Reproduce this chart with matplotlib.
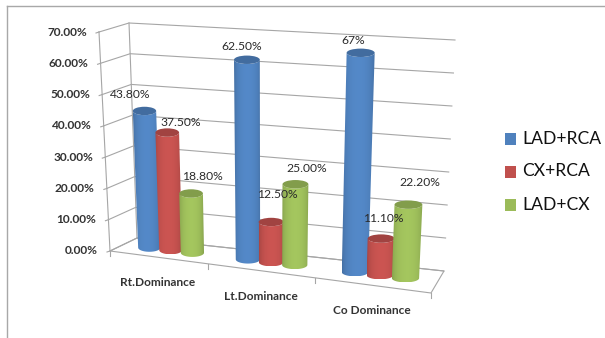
import numpy as np
import matplotlib
matplotlib.use("Agg")
import matplotlib.pyplot as plt
from matplotlib.patches import Ellipse, Polygon, PathPatch, Rectangle
from matplotlib.path import Path
from matplotlib.colors import to_rgb

plt.rcParams['font.family'] = ['Lato', 'DejaVu Sans']

categories = ['Rt.Dominance', 'Lt.Dominance', 'Co Dominance']
series_names = ['LAD+RCA', 'CX+RCA', 'LAD+CX']
lad_rca = [43.8, 62.5, 67.0]
cx_rca = [37.5, 12.5, 11.1]
lad_cx = [18.8, 25.0, 22.2]
lad_rca_labels = ['43.80%', '62.50%', '67%']
cx_rca_labels = ['37.50%', '12.50%', '11.10%']
lad_cx_labels = ['18.80%', '25.00%', '22.20%']
axis_ticks = [0, 10, 20, 30, 40, 50, 60, 70]
colors = ['#4F81BD', '#C0504D', '#9BBB59']

# corners of the 3d box on the canvas: (bottom, top) for each vertical edge
FL = np.array([[110, 251], [99, 32]], float)
BL = np.array([[137, 238], [129, 23]], float)
BR = np.array([[444, 271], [455, 40]], float)
FR = np.array([[431, 293], [443, 57]], float)
VMAX = 70.0
BAR_STEP = 0.0745
BAR_DU = 0.079


def proj(u, d, v):
    # u along the categories, d depth (0 front, 1 back), v the value
    u = u - 0.12 * u * (1 - u)
    t = v / VMAX
    left = (1 - d) * FL + d * BL
    right = (1 - d) * FR + d * BR
    edge = (1 - u) * left + u * right
    return (1 - t) * edge[0] + t * edge[1]


def cylinder(ax, u, v, color, zorder):
    base = np.array(to_rgb(color))
    lo0, lo1 = proj(u - BAR_DU / 2, 0.5, 0), proj(u + BAR_DU / 2, 0.5, 0)
    hi0, hi1 = proj(u - BAR_DU / 2, 0.5, v), proj(u + BAR_DU / 2, 0.5, v)
    top_c, bot_c = (hi0 + hi1) / 2, (lo0 + lo1) / 2
    rx_t, rx_b = (hi1[0] - hi0[0]) / 2, (lo1[0] - lo0[0]) / 2
    ry = 4.2

    # outline: down the left side, round the bottom, up the right side
    th = np.linspace(np.pi, 0, 30)
    bottom = np.c_[bot_c[0] + rx_b * np.cos(th), bot_c[1] + ry * np.sin(th)]
    th2 = np.linspace(0, np.pi, 30)
    top = np.c_[top_c[0] + rx_t * np.cos(th2), top_c[1] + ry * np.sin(th2)]
    pts = np.r_[bottom, top, bottom[:1]]
    path = Path(pts)

    # horizontal shading, a little darker at both sides of the cylinder
    s = np.linspace(-1, 1, 48)
    shade = 0.80 + 0.26 * np.sqrt(1 - 0.92 * s ** 2)
    img = np.clip(base[None, None, :] * shade[None, :, None], 0, 1)
    x0, x1 = pts[:, 0].min(), pts[:, 0].max()
    y0, y1 = pts[:, 1].min(), pts[:, 1].max()
    im = ax.imshow(img, extent=(x0, x1, y1, y0), aspect='auto', zorder=zorder,
                   interpolation='bilinear')
    im.set_clip_path(PathPatch(path, transform=ax.transData))

    ax.add_patch(Ellipse(top_c, 2 * rx_t, 2 * ry, fc=base * 0.84, ec='none',
                         zorder=zorder + 0.1))
    return top_c


fig = plt.figure(figsize=(6.05, 3.38), dpi=100)
ax = fig.add_axes([0, 0, 1, 1])

# walls and gridlines
grid = '#a6a6a6'
for v in axis_ticks:
    a, b, c = proj(0, 0, v), proj(0, 1, v), proj(1, 1, v)
    ax.plot([a[0], b[0], c[0]], [a[1], b[1], c[1]], color=grid, lw=0.8, zorder=1)
    t0 = proj(0, 0, v)
    ax.plot([t0[0] - 3, t0[0]], [t0[1] + 1, t0[1]], color=grid, lw=0.8, zorder=1)
    ax.text(t0[0] - 12, t0[1], '%.2f%%' % v, ha='right', va='center',
            fontsize=8.6, color='#333333', fontweight='bold', zorder=5)

for u, d in [(0, 0), (0, 1)]:
    a, b = proj(u, d, 0), proj(u, d, VMAX)
    ax.plot([a[0], b[0]], [a[1], b[1]], color=grid, lw=0.8, zorder=1)

# floor
floor = [proj(0, 0, 0), proj(1, 0, 0), proj(1, 1, 0), proj(0, 1, 0)]
ax.add_patch(Polygon(floor, closed=True, fc='none', ec=grid, lw=0.8, zorder=1))
for k in range(4):
    p = proj(k / 3, 0, 0)
    ax.plot([p[0], p[0]], [p[1], p[1] + 5], color=grid, lw=0.8, zorder=1)

# cylinders, left to right so the later ones overlap
series = [lad_rca, cx_rca, lad_cx]
z = 2.0
for i in range(len(categories)):
    centre = (i + 0.5) / 3
    for j, values in enumerate(series):
        cylinder(ax, centre + (j - 1) * BAR_STEP, values[i], colors[j], z)
        z += 0.2

# value labels sit in hand-placed spots next to the cylinders
label_pos = [[(130, 94), (181, 122), (202, 177)],
             [(242, 47), (277, 195), (307, 168)],
             [(353, 40), (383, 218), (420, 183)]]
labels = [lad_rca_labels, cx_rca_labels, lad_cx_labels]
for i in range(len(categories)):
    for j in range(len(series)):
        x, y = label_pos[i][j]
        ax.text(x, y, labels[j][i], ha='center', va='center', fontsize=8.7,
                color='#2a2a2a', zorder=10)

# category labels
cat_pos = [(158, 282), (261, 297), (372, 311)]
for name, (x, y) in zip(categories, cat_pos):
    ax.text(x, y, name, ha='center', va='center', fontsize=8.6,
            color='#333333', fontweight='bold', zorder=5)

# legend
for name, c, y in zip(series_names, colors, [139, 172, 205]):
    ax.add_patch(Rectangle((505, y - 6), 11, 11.5, fc=c, ec='none'))
    ax.text(522, y - 0.5, name, ha='left', va='center', fontsize=12.6, color='#111111')

# outer frame
ax.plot([7, 605], [6, 6], color='#a8a8a8', lw=1.0)
ax.plot([7, 7], [6, 338], color='#a8a8a8', lw=1.0)

ax.set_xlim(0, 605)
ax.set_ylim(338, 0)
ax.axis('off')
fig.savefig('out.png', dpi=100)
